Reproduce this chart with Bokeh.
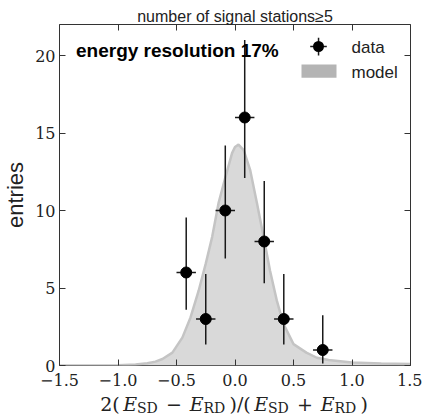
from bokeh.plotting import figure
from bokeh.layouts import column
from bokeh.core.properties import value
from bokeh.models import (ColumnDataSource, Label, BoxAnnotation, LinearAxis,
                          FixedTicker, Range1d)
from bokeh.embed import file_html
from bokeh.resources import INLINE

# ---------------- data ----------------
bin_centers = [-0.417, -0.25, -0.083, 0.083, 0.25, 0.417, 0.75]
bin_half_width = [0.083, 0.083, 0.083, 0.083, 0.083, 0.083, 0.083]
counts = [6, 3, 10, 16, 8, 3, 1]
count_low = [3.6, 1.35, 6.9, 12.1, 5.3, 1.35, 0.13]
count_high = [9.55, 5.9, 14.2, 21.0, 11.9, 5.9, 3.25]

model_x = [-1.5, -1.0, -0.85, -0.75, -0.68, -0.62, -0.535, -0.45, -0.38, -0.31,
           -0.25, -0.195, -0.14, -0.08, -0.025, 0.0, 0.03, 0.074, 0.13, 0.187,
           0.244, 0.30, 0.357, 0.413, 0.50, 0.61, 0.70, 0.80, 1.0, 1.25, 1.5]
model_y = [0.0, 0.02, 0.07, 0.15, 0.25, 0.42, 0.83, 1.8, 3.1, 4.84,
           6.57, 8.3, 10.5, 12.2, 13.7, 14.1, 14.25, 13.9, 12.6, 10.5,
           8.3, 6.1, 4.2, 2.7, 1.38, 0.83, 0.5, 0.35, 0.2, 0.13, 0.1]

x_ticks = [-1.5, -1.0, -0.5, 0.0, 0.5, 1.0, 1.5]
x_tick_labels = ["\u22121.5", "\u22121.0", "\u22120.5", "0.0", "0.5", "1.0", "1.5"]
y_ticks = [0, 5, 10, 15, 20]
y_tick_labels = ["0", "5", "10", "15", "20"]

title_text = "number of signal stations\u22655"
annotation_text = "energy resolution 17%"
legend_labels = ["data", "model"]
y_label = "entries"
# x label: 2(E_SD - E_RD)/(E_SD + E_RD)
x_label_parts = ["2(", "E", "SD", "\u2212", "E", "RD", ")/(", "E", "SD", "+", "E", "RD", ")"]

# ---------------- layout constants ----------------
W, H = 422, 415
LABEL_H = 22                      # strip below the main figure for the x label
PH = H - LABEL_H
FL, FR, FT, FB = 56, 12, 24, 28   # borders around the frame
FRAME_BOTTOM = PH - FB
SANS = "Liberation Sans"
SERIF = "DejaVu Serif"
INK = "#222222"
BASE_FIX = 0.29                   # observed baseline drop of rendered texts, in em

def sx(cx):
    return cx - FL

def sy(cy, size=0):
    return FRAME_BOTTOM - (cy - BASE_FIX * size)

p = figure(width=W, height=PH, x_range=Range1d(-1.5, 1.5), y_range=Range1d(0, 22),
           output_backend="svg", toolbar_location=None,
           min_border_left=FL, min_border_right=FR, min_border_top=FT,
           min_border_bottom=FB)
p.background_fill_color = "white"
p.border_fill_color = "white"
p.outline_line_color = "#333333"
p.outline_line_width = 1
p.xgrid.visible = False
p.ygrid.visible = False

p.title.text = title_text
p.title.text_font = SANS
p.title.text_font_size = "16px"
p.title.text_font_style = "normal"
p.title.text_color = INK
p.title.align = "center"
p.title.standoff = 0

xt = FixedTicker(ticks=x_ticks)
yt = FixedTicker(ticks=y_ticks)

def style_axis(ax, ticker, overrides, show_labels, standoff):
    ax.ticker = ticker
    ax.axis_line_color = None
    ax.major_tick_in = 6
    ax.major_tick_out = 0
    ax.major_tick_line_color = "#333333"
    ax.minor_tick_line_color = None
    if show_labels:
        ax.major_label_overrides = overrides
        ax.major_label_text_font = SERIF
        ax.major_label_text_font_size = "16px"
        ax.major_label_text_color = INK
        ax.major_label_standoff = standoff
    else:
        ax.major_label_text_font_size = "0px"
        ax.major_label_text_color = None
        ax.major_label_standoff = 0

style_axis(p.xaxis[0], xt, {t: l for t, l in zip(x_ticks, x_tick_labels)}, True, 8)
style_axis(p.yaxis[0], yt, {t: l for t, l in zip(y_ticks, y_tick_labels)}, True, 4)
p.yaxis[0].axis_label = y_label
p.yaxis[0].axis_label_text_font = SANS
p.yaxis[0].axis_label_text_font_size = "22px"
p.yaxis[0].axis_label_text_font_style = "normal"
p.yaxis[0].axis_label_text_color = INK
p.yaxis[0].axis_label_standoff = 4

top_axis = LinearAxis()
style_axis(top_axis, xt, {}, False, 0)
p.add_layout(top_axis, "above")
right_axis = LinearAxis()
style_axis(right_axis, yt, {}, False, 0)
p.add_layout(right_axis, "right")

# ---------------- model ----------------
msrc = ColumnDataSource(dict(x=model_x, y=model_y))
p.varea(x="x", y1=0, y2="y", source=msrc, fill_color="#d9d9d9")
p.line(x="x", y="y", source=msrc, line_color="#c4c4c4", line_width=2.5)

# ---------------- data ----------------
dsrc = ColumnDataSource(dict(
    x=bin_centers, y=counts, lo=count_low, hi=count_high,
    xl=[c - h for c, h in zip(bin_centers, bin_half_width)],
    xr=[c + h for c, h in zip(bin_centers, bin_half_width)]))
p.segment(x0="x", y0="lo", x1="x", y1="hi", source=dsrc, line_color="#1a1a1a", line_width=1.5)
p.segment(x0="xl", y0="y", x1="xr", y1="y", source=dsrc, line_color="#1a1a1a", line_width=1.5)
p.scatter(x="x", y="y", source=dsrc, size=11, fill_color="black", line_color="black")

# ---------------- texts inside the frame ----------------
p.add_layout(Label(x=sx(72.5), y=sy(56, 19), x_units="screen", y_units="screen",
                   text=annotation_text, text_align="left", text_baseline="alphabetic",
                   text_font=SANS, text_font_size="19px", text_font_style="bold",
                   text_color="black"))

# legend
def box(l, r, t, b, color, radius=0):
    return BoxAnnotation(left=sx(l), right=sx(r), top=sy(t), bottom=sy(b),
                         left_units="screen", right_units="screen",
                         top_units="screen", bottom_units="screen",
                         fill_color=color, fill_alpha=1, line_color=None,
                         border_radius=radius)

p.add_layout(box(306.7, 323.3, 45.3, 46.8, "#1a1a1a"))
p.add_layout(box(314.3, 315.8, 37.3, 55.0, "#1a1a1a"))
p.add_layout(box(309.5, 320.5, 40.5, 51.5, "black", 6))
p.add_layout(box(298, 333, 64, 77.3, "#b4b4b4"))
p.add_layout(Label(x=sx(348), y=sy(51.7, 17), x_units="screen", y_units="screen",
                   text=legend_labels[0], text_baseline="alphabetic",
                   text_font=SANS, text_font_size="17px", text_color=INK))
p.add_layout(Label(x=sx(348), y=sy(76.7, 17), x_units="screen", y_units="screen",
                   text=legend_labels[1], text_baseline="alphabetic",
                   text_font=SANS, text_font_size="17px", text_color=INK))

# ---------------- x axis label strip ----------------
# the column aligns this strip's frame with the main frame, so its x range is
# expressed in canvas pixels of that frame span
q = figure(width=W, height=LABEL_H, x_range=Range1d(FL, W - FR),
           y_range=Range1d(0, LABEL_H), title=None,
           output_backend="svg", toolbar_location=None, x_axis_type=None,
           y_axis_type=None, min_border_left=FL, min_border_right=FR,
           min_border_top=0, min_border_bottom=0)
q.outline_line_color = None
q.xgrid.visible = False
q.ygrid.visible = False
q.background_fill_color = "white"
q.border_fill_color = "white"

MAIN, SUB = 19, 14
part_style = ["normal", "italic", "normal", "normal", "italic", "normal", "normal",
              "italic", "normal", "normal", "italic", "normal", "normal"]
part_is_sub = [False, False, True, False, False, True, False, False, True, False,
               False, True, False]
part_em = [1.026, 0.727, 1.515, 0.838, 0.727, 1.600, 1.117, 0.727, 1.515, 0.838,
           0.727, 1.600, 0.390]
part_gap = [0, 0, 0.222, 0.222, 0, 0, 0, 0, 0.222, 0.222, 0, 0, 0]
start, end = 97.0, 367.0
sizes = [SUB if s else MAIN for s in part_is_sub]
natural = sum(w * s + g * MAIN for w, s, g in zip(part_em, sizes, part_gap))
# spread the spare width only over joints that are not "E -> subscript"
stretch = [0 if (i + 1 < len(part_is_sub) and part_is_sub[i + 1]) else 1
           for i in range(len(part_is_sub) - 1)] + [0]
extra = (end - start - natural) / sum(stretch)
xs, ys = [], []
cx = start
for w, s, g, is_sub, st in zip(part_em, sizes, part_gap, part_is_sub, stretch):
    xs.append(cx)
    base = 411.3 if is_sub else 408.8
    ys.append(H - (base - BASE_FIX * s))
    cx += w * s + g * MAIN + extra * st
lsrc = ColumnDataSource(dict(x=xs, y=ys, text=x_label_parts,
                             size=[f"{s}px" for s in sizes], style=part_style))
q.text(x="x", y="y", text="text", source=lsrc, text_font=value(SERIF),
       text_font_size="size", text_font_style="style", text_color=INK,
       text_baseline="alphabetic", text_align="left")

layout = column(p, q, spacing=0)
open("out.html", "w").write(file_html(layout, INLINE))
